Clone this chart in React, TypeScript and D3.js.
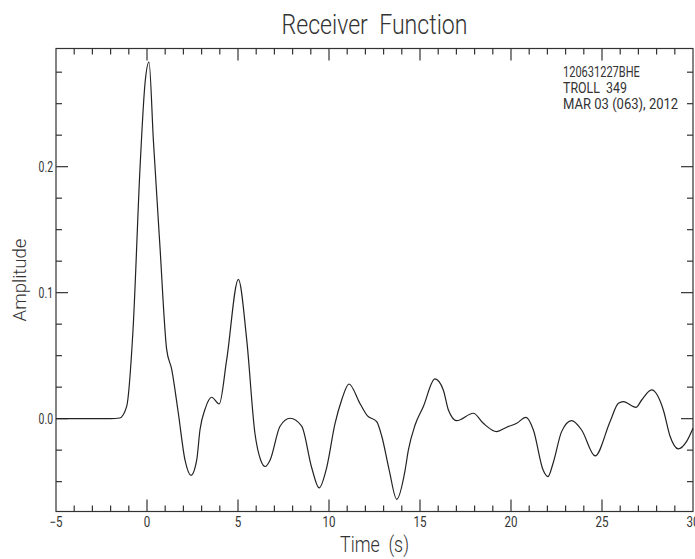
import React, { useEffect, useRef } from "react";
import * as d3 from "d3";

// trace samples (seconds, amplitude)
const times = [
  -5, -2, -1.5, -1.12, -0.77, -0.38, -0.11, 0.11, 0.35, 0.71, 1.08, 1.36, 1.72, 2.09, 2.42,
  2.73, 2.91, 3.2, 3.55, 3.97, 4.38, 5.02, 5.48, 5.93, 6.25, 6.5, 6.76, 7.31, 7.86, 8.5,
  9.05, 9.46, 9.87, 10.33, 10.7, 11.1, 11.7, 12.1, 12.62, 12.9, 13.31, 13.72, 14.18, 14.36,
  14.73, 15.18, 15.82, 16.28, 16.56, 17.02, 17.93, 18.48, 19.21, 19.76, 20.31, 20.82, 21.23,
  21.77, 22.03, 22.32, 22.78, 23.33, 23.88, 24.62, 25.44, 25.9, 26.17, 26.87, 27.18, 27.73,
  28.37, 28.74, 29.19, 29.65, 30,
];
const amplitudes = [
  0, 0, 0.0005, 0.0095, 0.07, 0.2, 0.266, 0.283, 0.221, 0.137, 0.055, 0.039, 0.0045, -0.033,
  -0.045, -0.033, -0.009, 0.008, 0.017, 0.0117, 0.047, 0.1106, 0.0625, -0.0116, -0.033, -0.038,
  -0.033, -0.006, 0.0003, -0.006, -0.039, -0.055, -0.039, -0.004, 0.015, 0.0275, 0.012, 0.0024,
  -0.0024, -0.014, -0.041, -0.064, -0.041, -0.025, -0.005, 0.0095, 0.0315, 0.0228, 0.0069,
  -0.0016, 0.0043, -0.0037, -0.0103, -0.0068, -0.0037, 0.001, -0.009, -0.041, -0.046, -0.035,
  -0.0103, -0.0016, -0.009, -0.0296, -0.0024, 0.0122, 0.0135, 0.009, 0.0148, 0.0228, 0.0069,
  -0.014, -0.024, -0.018, -0.0076,
];

const xLabels = [-5, 0, 5, 10, 15, 20, 25, 30];
const yLabels = [0.0, 0.1, 0.2];
const headerLines = ["120631227BHE", "TROLL  349", "MAR 03 (063), 2012"];

const FONT = "Roboto, 'DejaVu Sans Condensed', sans-serif";

const App = () => {
  const ref = useRef<SVGSVGElement>(null);
  const [width, height] = [695, 559];
  const margin = { left: 56, right: 2, top: 48.5, bottom: 47.5 };

  useEffect(() => {
    const svg = d3.select(ref.current);
    svg.selectAll("*").remove();

    const x = d3.scaleLinear().domain([-5, 30]).range([margin.left, width - margin.right]);
    const y = d3.scaleLinear().domain([-0.0737, 0.2938]).range([height - margin.bottom, margin.top]);
    const [x0, x1] = x.range();
    const [y0, y1] = y.range();
    const ink = "#333";

    // narrow text helper: width set per character like the plotting font
    const label = (sel, size, perChar, weight = 300) =>
      sel.attr("font-family", FONT).attr("font-size", size).attr("font-weight", weight)
        .attr("fill", ink)
        .style("white-space", "pre")
        .attr("textLength", (d) => String(d).length * perChar)
        .attr("lengthAdjust", "spacingAndGlyphs");

    // title
    svg.append("text")
      .datum("Receiver  Function")
      .attr("x", (x0 + x1) / 2).attr("y", 34)
      .attr("text-anchor", "middle")
      .call(label, 28, 186 / 18)
      .text((d) => d);

    // frame
    svg.append("rect")
      .attr("x", x0).attr("y", y1)
      .attr("width", x1 - x0).attr("height", y0 - y1)
      .attr("fill", "none").attr("stroke", ink).attr("stroke-width", 1.2);

    // x ticks, top and bottom, pointing inward
    const g = svg.append("g").attr("stroke", ink).attr("stroke-width", 1.2);
    d3.range(-4, 30, 1).forEach((t) => {
      const len = t % 5 === 0 ? 12 : 6;
      g.append("line").attr("x1", x(t)).attr("x2", x(t)).attr("y1", y0).attr("y2", y0 - len);
      g.append("line").attr("x1", x(t)).attr("x2", x(t)).attr("y1", y1).attr("y2", y1 + len);
    });
    // y ticks, left and right
    d3.range(-0.05, 0.29, 0.025).forEach((v) => {
      const major = Math.abs(Math.round(v * 10) - v * 10) < 1e-6;
      const len = major ? 12 : 6;
      g.append("line").attr("x1", x0).attr("x2", x0 + len).attr("y1", y(v)).attr("y2", y(v));
      g.append("line").attr("x1", x1).attr("x2", x1 - len).attr("y1", y(v)).attr("y2", y(v));
    });

    // tick labels
    const fmtX = (d) => (d < 0 ? "\u2212" + Math.abs(d) : String(d));
    svg.append("g")
      .selectAll("text")
      .data(xLabels.map(fmtX))
      .join("text")
      .attr("x", (d, i) => x(xLabels[i])).attr("y", y0 + 15)
      .attr("text-anchor", "middle")
      .call(label, 14, 6.5, 400)
      .text((d) => d);

    svg.append("g")
      .selectAll("text")
      .data(yLabels.map((d) => d.toFixed(1)))
      .join("text")
      .attr("x", x0 - 3).attr("y", (d, i) => y(yLabels[i]) + 5)
      .attr("text-anchor", "end")
      .call(label, 14, 4.8, 400)
      .text((d) => d);

    // axis titles
    svg.append("text")
      .datum("Time  (s)")
      .attr("x", (x0 + x1) / 2).attr("y", 552)
      .attr("text-anchor", "middle")
      .call(label, 22, 69 / 9)
      .text((d) => d);

    svg.append("text")
      .datum("Amplitude")
      .attr("transform", `translate(26, ${(y0 + y1) / 2}) rotate(-90)`)
      .attr("text-anchor", "middle")
      .call(label, 18, 83 / 9)
      .text((d) => d);

    // header block
    svg.append("g")
      .selectAll("text")
      .data(headerLines)
      .join("text")
      .attr("x", 563).attr("y", (d, i) => 77 + i * 16)
      .call(label, 14, 6.4, 400)
      .text((d) => d);

    // the trace
    const data = times.map((t, i) => [t, amplitudes[i]] as [number, number]);
    const line = d3.line<[number, number]>()
      .x((d) => x(d[0]))
      .y((d) => y(d[1]))
      .curve(d3.curveMonotoneX);

    svg.append("path")
      .datum(data)
      .attr("d", line)
      .attr("fill", "none")
      .attr("stroke", "#222")
      .attr("stroke-width", 1.2);
  }, []);

  return (
    <svg
      ref={ref}
      width={width}
      height={height}
      style={{ position: "absolute", left: 0, top: 0, background: "#fff" }}
    />
  );
};

export default App;
